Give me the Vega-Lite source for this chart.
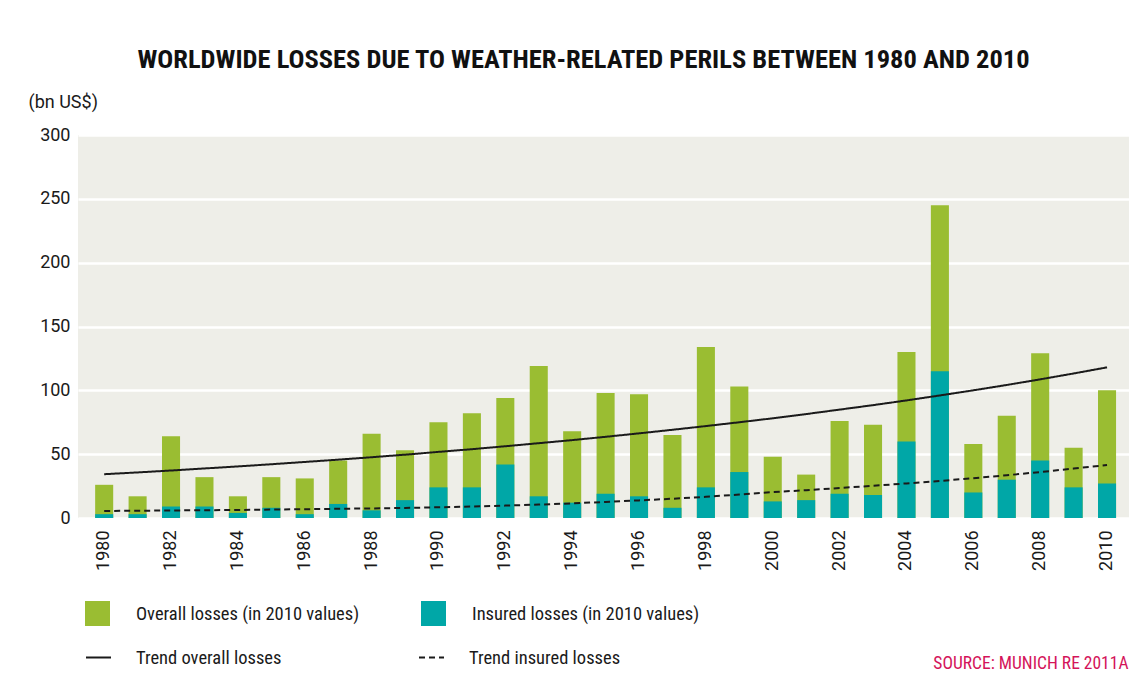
{
  "$schema": "https://vega.github.io/schema/vega-lite/v6.json",
  "width": 1051,
  "height": 383,
  "autosize": {"type": "none"},
  "padding": {"left": 78, "top": 135, "right": 11, "bottom": 161},
  "background": "white",
  "title": {
    "text": "WORLDWIDE LOSSES DUE TO WEATHER-RELATED PERILS BETWEEN 1980 AND 2010",
    "anchor": "middle",
    "dx": -20,
    "offset": 20,
    "fontSize": 26.5,
    "font": "Roboto Condensed",
    "fontWeight": "bold",
    "color": "#111111"
  },
  "config": {
    "view": {"fill": "#EEEEE8", "stroke": null},
    "axis": {"domain": false, "ticks": false},
    "font": "Roboto"
  },
  "data": {
    "values": [
      {"year": 1980, "overall": 26, "insured": 3, "trendOverall": 34.3, "trendInsured": 5.5},
      {"year": 1981, "overall": 17, "insured": 3, "trendOverall": 35.7, "trendInsured": 5.7},
      {"year": 1982, "overall": 64, "insured": 9, "trendOverall": 37.2, "trendInsured": 5.9},
      {"year": 1983, "overall": 32, "insured": 9, "trendOverall": 38.8, "trendInsured": 6.1},
      {"year": 1984, "overall": 17, "insured": 4, "trendOverall": 40.4, "trendInsured": 6.3},
      {"year": 1985, "overall": 32, "insured": 8, "trendOverall": 42.1, "trendInsured": 6.6},
      {"year": 1986, "overall": 31, "insured": 3, "trendOverall": 43.9, "trendInsured": 6.9},
      {"year": 1987, "overall": 45, "insured": 11, "trendOverall": 45.7, "trendInsured": 7.2},
      {"year": 1988, "overall": 66, "insured": 6, "trendOverall": 47.6, "trendInsured": 7.5},
      {"year": 1989, "overall": 53, "insured": 14, "trendOverall": 49.6, "trendInsured": 7.9},
      {"year": 1990, "overall": 75, "insured": 24, "trendOverall": 51.8, "trendInsured": 8.4},
      {"year": 1991, "overall": 82, "insured": 24, "trendOverall": 53.9, "trendInsured": 9.0},
      {"year": 1992, "overall": 94, "insured": 42, "trendOverall": 56.2, "trendInsured": 9.7},
      {"year": 1993, "overall": 119, "insured": 17, "trendOverall": 58.6, "trendInsured": 10.5},
      {"year": 1994, "overall": 68, "insured": 12, "trendOverall": 61.0, "trendInsured": 11.5},
      {"year": 1995, "overall": 98, "insured": 19, "trendOverall": 63.6, "trendInsured": 12.6},
      {"year": 1996, "overall": 97, "insured": 17, "trendOverall": 66.3, "trendInsured": 13.8},
      {"year": 1997, "overall": 65, "insured": 8, "trendOverall": 69.1, "trendInsured": 15.1},
      {"year": 1998, "overall": 134, "insured": 24, "trendOverall": 72.0, "trendInsured": 16.6},
      {"year": 1999, "overall": 103, "insured": 36, "trendOverall": 75.0, "trendInsured": 18.4},
      {"year": 2000, "overall": 48, "insured": 13, "trendOverall": 78.1, "trendInsured": 20.3},
      {"year": 2001, "overall": 34, "insured": 14, "trendOverall": 81.4, "trendInsured": 21.8},
      {"year": 2002, "overall": 76, "insured": 19, "trendOverall": 84.9, "trendInsured": 23.5},
      {"year": 2003, "overall": 73, "insured": 18, "trendOverall": 88.4, "trendInsured": 25.2},
      {"year": 2004, "overall": 130, "insured": 60, "trendOverall": 92.1, "trendInsured": 27.1},
      {"year": 2005, "overall": 245, "insured": 115, "trendOverall": 96.0, "trendInsured": 29.0},
      {"year": 2006, "overall": 58, "insured": 20, "trendOverall": 100.0, "trendInsured": 31.2},
      {"year": 2007, "overall": 80, "insured": 30, "trendOverall": 104.2, "trendInsured": 33.5},
      {"year": 2008, "overall": 129, "insured": 45, "trendOverall": 108.6, "trendInsured": 36.0},
      {"year": 2009, "overall": 55, "insured": 24, "trendOverall": 113.2, "trendInsured": 38.7},
      {"year": 2010, "overall": 100, "insured": 27, "trendOverall": 118.0, "trendInsured": 41.5}
    ]
  },
  "encoding": {
    "x": {
      "field": "year",
      "type": "ordinal",
      "scale": {"type": "band", "paddingInner": 0.46, "paddingOuter": 0.45, "align": 0.57},
      "axis": {
        "values": [1980, 1982, 1984, 1986, 1988, 1990, 1992, 1994, 1996, 1998, 2000, 2002, 2004, 2006, 2008, 2010],
        "labelAngle": -90,
        "labelFontSize": 18,
        "labelColor": "#1a1a1a",
        "labelPadding": 12,
        "title": "SOURCE: MUNICH RE 2011A",
        "titleColor": "#D4145A",
        "titleFontSize": 17.5,
        "titleFont": "Roboto Condensed",
        "titleFontWeight": "normal",
        "titleAnchor": null,
        "titleAlign": "right",
        "titleBaseline": "middle",
        "titleX": 1050,
        "titleY": 145
      }
    }
  },
  "layer": [
    {
      "mark": {"type": "bar"},
      "encoding": {
        "y": {
          "field": "overall",
          "type": "quantitative",
          "scale": {"domain": [0, 300], "nice": false},
          "axis": {
            "values": [0, 50, 100, 150, 200, 250, 300],
            "grid": true,
            "gridColor": "#ffffff",
            "gridWidth": 2.5,
            "labelFontSize": 18,
            "labelColor": "#1a1a1a",
            "labelPadding": 8,
            "title": "(bn US$)",
            "titleAngle": 0,
            "titleAlign": "left",
            "titleBaseline": "middle",
            "titleAnchor": null,
            "titleX": -50,
            "titleY": -33,
            "titleFontSize": 18,
            "titleFontWeight": "normal",
            "titleColor": "#1a1a1a"
          }
        },
        "color": {
          "datum": "Overall losses (in 2010 values)",
          "type": "nominal",
          "scale": {
            "domain": ["Overall losses (in 2010 values)", "Insured losses (in 2010 values)"],
            "range": ["#9ABD32", "#00A7A7"]
          },
          "legend": {
            "title": null,
            "orient": "none",
            "legendX": 7,
            "legendY": 466,
            "direction": "horizontal",
            "columns": 2,
            "columnPadding": 61,
            "symbolType": "square",
            "symbolSize": 625,
            "symbolStrokeWidth": 0,
            "symbolOpacity": 1,
            "labelOffset": 26,
            "labelFontSize": 18.5,
            "labelFont": "Roboto Condensed",
            "labelColor": "#1a1a1a",
            "labelLimit": 400
          }
        }
      }
    },
    {
      "mark": {"type": "bar"},
      "encoding": {
        "y": {"field": "insured", "type": "quantitative"},
        "color": {"datum": "Insured losses (in 2010 values)", "type": "nominal"}
      }
    },
    {
      "mark": {"type": "line", "strokeWidth": 2, "color": "#1a1a1a"},
      "encoding": {
        "y": {"field": "trendOverall", "type": "quantitative"},
        "strokeDash": {
          "datum": "Trend overall losses",
          "type": "nominal",
          "scale": {
            "domain": ["Trend overall losses", "Trend insured losses"],
            "range": [[1, 0], [6, 4]]
          },
          "legend": {
            "title": null,
            "orient": "none",
            "legendX": 7,
            "legendY": 509,
            "direction": "horizontal",
            "columns": 2,
            "columnPadding": 133,
            "symbolType": "stroke",
            "symbolSize": 625,
            "symbolStrokeColor": "#1a1a1a",
            "symbolStrokeWidth": 2,
            "labelOffset": 24,
            "labelFontSize": 18.5,
            "labelFont": "Roboto Condensed",
            "labelColor": "#1a1a1a",
            "labelLimit": 400
          }
        }
      }
    },
    {
      "mark": {"type": "line", "strokeWidth": 2, "color": "#1a1a1a"},
      "encoding": {
        "y": {"field": "trendInsured", "type": "quantitative"},
        "strokeDash": {"datum": "Trend insured losses", "type": "nominal"}
      }
    }
  ]
}
